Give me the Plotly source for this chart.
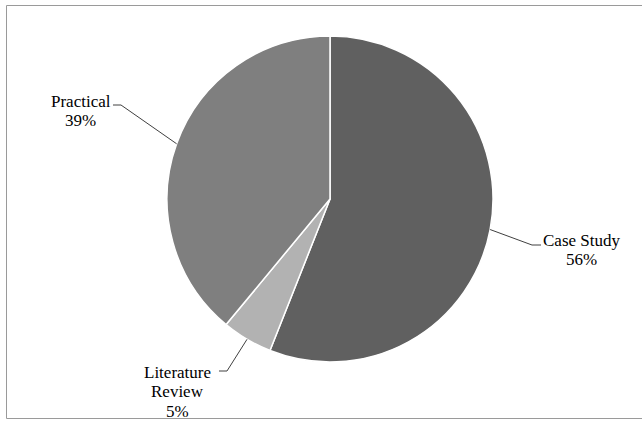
import math
import plotly.graph_objects as go

# ---- data ----
categories = ["Case Study", "Literature Review", "Practical"]
values = [56, 5, 39]
colors = ["#606060", "#b2b2b2", "#7f7f7f"]
label_lines = [["Case Study"], ["Literature", "Review"], ["Practical"]]

# ---- layout constants (pixels) ----
W, H = 642, 423
CX, CY, R = 330, 199, 163
FONT = "Liberation Serif"
FS = 17
LINE_H = 19.5
# per-slice: text centre x, first-line centre y, leader elbow points (from pie edge outward)
label_layout = [
    dict(tx=581, ty=240, elbow=[(532, 245), (541, 245)]),
    dict(tx=178, ty=372, elbow=[(227, 371), (219, 371)]),
    dict(tx=81, ty=101, elbow=[(121, 105), (113, 105)]),
]


def px(x, y):
    return x / W, 1 - y / H


fig = go.Figure()
fig.add_trace(go.Pie(
    labels=categories, values=values, sort=False, direction="clockwise",
    rotation=0, textinfo="none", hoverinfo="label+percent",
    marker=dict(colors=colors, line=dict(color="white", width=1.5)),
    domain=dict(x=[(CX - R) / W, (CX + R) / W], y=[1 - (CY + R) / H, 1 - (CY - R) / H]),
    showlegend=False,
))

total = sum(values)
cum = 0
shapes = []
annotations = []
for cat, v, lines, lay in zip(categories, values, label_lines, label_layout):
    mid = (cum + v / 2) / total * 2 * math.pi
    cum += v
    ex, ey = CX + R * math.sin(mid), CY - R * math.cos(mid)
    pts = [(ex, ey)] + lay["elbow"]
    path = "M " + " L ".join(f"{px(x, y)[0]:.5f},{px(x, y)[1]:.5f}" for x, y in pts)
    shapes.append(dict(type="path", xref="paper", yref="paper", path=path,
                       line=dict(color="#404040", width=1)))
    text_lines = lines + [f"{round(v / total * 100)}%"]
    for i, t in enumerate(text_lines):
        x, y = px(lay["tx"], lay["ty"] + i * LINE_H)
        annotations.append(dict(text=t, x=x, y=y, xref="paper", yref="paper",
                                xanchor="center", yanchor="middle", showarrow=False,
                                font=dict(family=FONT, size=FS, color="#000000")))

# outer chart-area border (right edge falls just outside the canvas)
x0, y0 = px(6.5, 5.5)
x1, y1 = px(645, 418.5)
shapes.append(dict(type="rect", xref="paper", yref="paper", x0=x0, y0=y1, x1=x1, y1=y0,
                   line=dict(color="#9a9a9a", width=1), layer="below"))

fig.update_layout(
    width=W, height=H, margin=dict(l=0, r=0, t=0, b=0),
    paper_bgcolor="white", plot_bgcolor="white",
    font=dict(family=FONT),
    shapes=shapes, annotations=annotations,
)
fig.write_html("out.html")
